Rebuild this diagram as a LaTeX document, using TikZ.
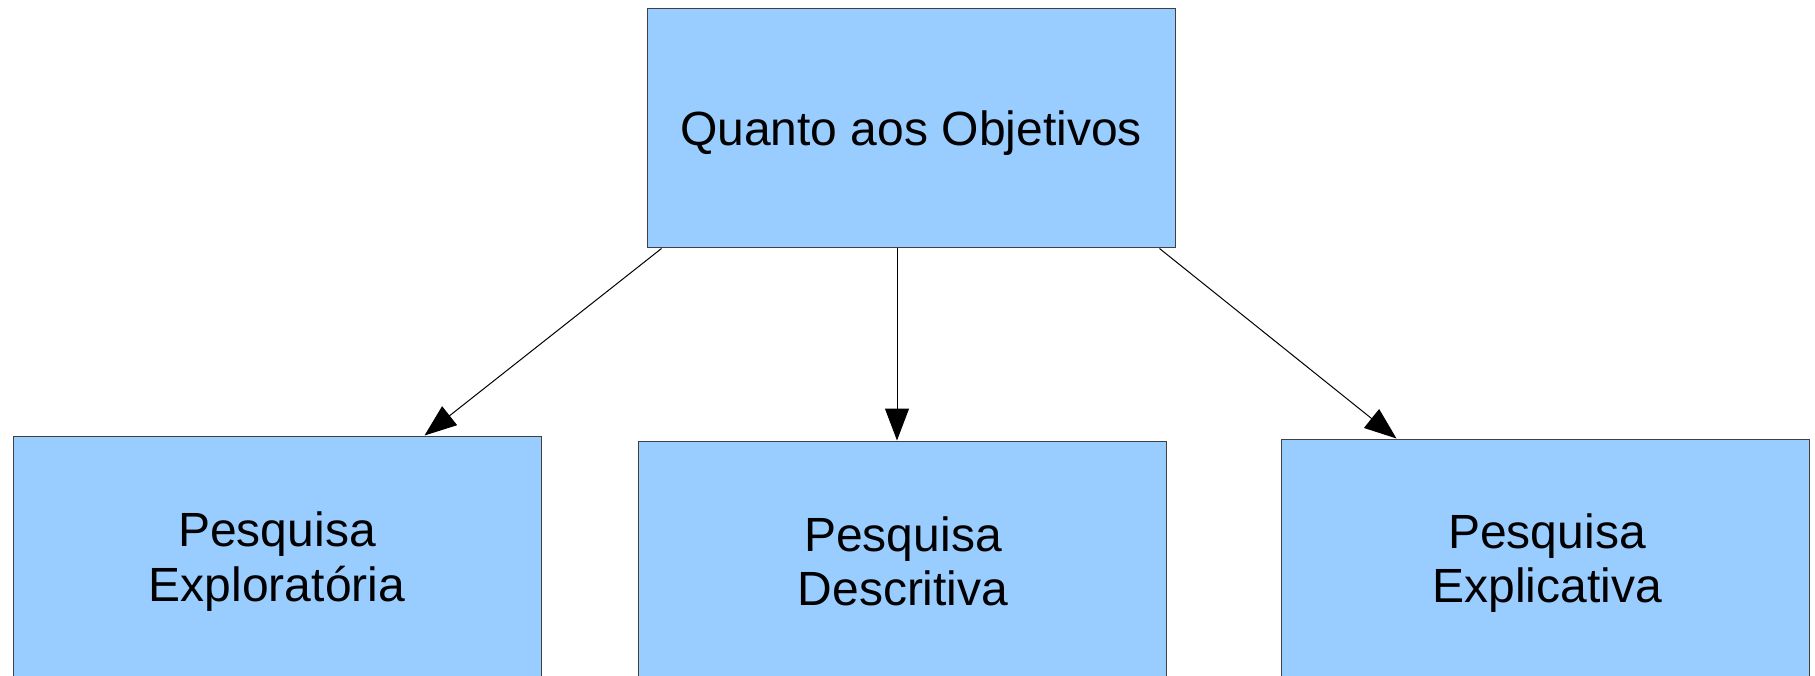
\documentclass[tikz,border=0pt]{standalone}
\usepackage{fontspec}
\setmainfont{Liberation Sans}
\usetikzlibrary{arrows.meta,calc}
\definecolor{boxblue}{HTML}{99CCFF}
\begin{document}
\begin{tikzpicture}[x=1pt,y=-1pt,
  box/.style={draw=black!75, line width=1pt, fill=boxblue, minimum width=528pt,
    inner sep=0pt},
  txt/.style={inner sep=0pt, align=center, font=\fontsize{48}{54.5}\selectfont},
  conn/.style={line width=1pt, -{Triangle[length=32pt,width=24pt]}}]
\useasboundingbox (0,0) rectangle (1815,676);
\clip (0,0) rectangle (1815,676);
\node[box, minimum height=239pt] (top) at (911,128.5) {};
\node[box, minimum height=244pt] (expl) at (277,558) {};
\node[box, minimum height=244pt] (desc) at (902,563) {};
\node[box, minimum height=244pt] (expc) at (1545,561) {};
\node[txt] (ttop) at (911,133) {Quanto aos Objetivos};
\node[txt] (texpl) at (277,561.5) {Pesquisa\\Exploratória};
\node[txt] (tdesc) at (903,561.5) {Pesquisa\\Descritiva};
\node[txt] (texpc) at (1547,563) {Pesquisa\\Explicativa};
\draw[conn] ($(top.south west)+(15,0)$) -- ($(expl.north west)+(412,0)$);
\draw[conn] ($(top.south)+(-14,0)$) -- ($(desc.north)+(-5,0)$);
\draw[conn] ($(top.south east)+(-16,0)$) -- ($(expc.north west)+(116,0)$);
\end{tikzpicture}
\end{document}
